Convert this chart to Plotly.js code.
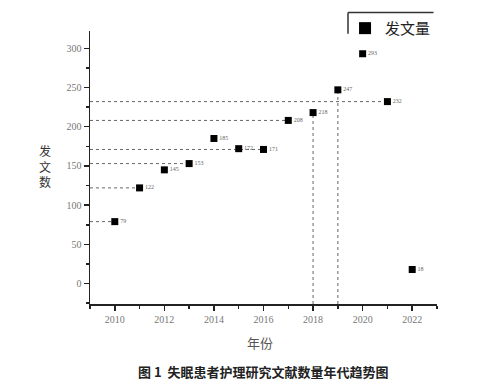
<!DOCTYPE html>
<html>
<head>
<meta charset="utf-8">
<script src="https://cdn.plot.ly/plotly-3.0.1.min.js"></script>
<style>html,body{margin:0;padding:0;background:#fff;}#chart{width:500px;height:389px;}</style>
</head>
<body>
<div id="chart"></div>
<script>
const years = [2010, 2011, 2012, 2013, 2014, 2015, 2016, 2017, 2018, 2019, 2020, 2021, 2022];
const counts = [79, 122, 145, 153, 185, 172, 171, 208, 218, 247, 293, 232, 18];
const xTickVals = [2010, 2012, 2014, 2016, 2018, 2020, 2022];
const xTickText = ['2010', '2012', '2014', '2016', '2018', '2020', '2022'];
const yTickVals = [0, 50, 100, 150, 200, 250, 300];
const hDropYears = [2010, 2011, 2013, 2016, 2017, 2021];
const vDropYears = [2018, 2019];
const seriesName = '发文量';

const xMin = 2009, xMax = 2023, yMin = -26, yMax = 322;
const valueOf = y => counts[years.indexOf(y)];

const traces = [];
hDropYears.forEach(y => {
  traces.push({x: [xMin, y], y: [valueOf(y), valueOf(y)], mode: 'lines', showlegend: false,
    line: {color: '#666', width: 1, dash: 'dot'}, hoverinfo: 'skip'});
});
vDropYears.forEach(y => {
  traces.push({x: [y, y], y: [yMin, valueOf(y)], mode: 'lines', showlegend: false,
    line: {color: '#666', width: 1, dash: 'dot'}, hoverinfo: 'skip'});
});
traces.push({
  x: years, y: counts, name: seriesName, mode: 'markers+text',
  marker: {symbol: 'square', size: 7, color: '#000'},
  text: counts.map(String), textposition: 'middle right',
  textfont: {size: 6, color: '#666', family: 'Liberation Serif'}
});

const layout = {
  width: 500, height: 389,
  margin: {l: 90, r: 63, t: 25, b: 85},
  paper_bgcolor: '#fff', plot_bgcolor: '#fff',
  showlegend: true,
  legend: {x: 0.735, y: 1.07, xanchor: 'left', yanchor: 'top', bgcolor: 'rgba(0,0,0,0)',
    font: {size: 15, family: 'Noto Sans CJK SC', color: '#222'}, itemsizing: 'constant'},
  xaxis: {range: [xMin, xMax], tickvals: xTickVals, ticktext: xTickText,
    ticks: 'outside', ticklen: 5, tickwidth: 1.5, tickcolor: '#222',
    minor: {dtick: 1, tick0: 2009, ticks: 'outside', ticklen: 3, tickcolor: '#222'},
    showline: true, linecolor: '#222', linewidth: 1.5, showgrid: false, zeroline: false,
    tickfont: {size: 10, family: 'Liberation Serif', color: '#777'}},
  yaxis: {range: [yMin, yMax], tickvals: yTickVals,
    ticks: 'outside', ticklen: 5, tickwidth: 1.5, tickcolor: '#222',
    minor: {dtick: 25, tick0: 0, ticks: 'outside', ticklen: 3, tickcolor: '#222'},
    showline: true, linecolor: '#222', linewidth: 1.5, showgrid: false, zeroline: false,
    tickfont: {size: 10, family: 'Liberation Serif', color: '#777'}},
  shapes: [
    {type: 'line', xref: 'paper', yref: 'paper', x0: 0.7435, x1: 0.99, y0: 1.068, y1: 1.068, line: {color: '#333', width: 1.5}},
    {type: 'line', xref: 'paper', yref: 'paper', x0: 0.7435, x1: 0.7435, y0: 1.068, y1: 0.99, line: {color: '#333', width: 1.5}}
  ],
  annotations: [
    {text: '发<br>文<br>数', xref: 'paper', yref: 'paper', x: -0.13, y: 0.505, xanchor: 'center', yanchor: 'middle',
      showarrow: false, font: {size: 12, family: 'Noto Sans CJK SC', color: '#333'}},
    {text: '年份', xref: 'paper', yref: 'paper', x: 0.49, y: -0.14, xanchor: 'center', yanchor: 'middle',
      showarrow: false, font: {size: 13, family: 'Noto Sans CJK SC', color: '#555'}},
    {text: '<b>图 1  失眠患者护理研究文献数量年代趋势图</b>', xref: 'paper', yref: 'paper', x: 0.5, y: -0.248,
      xanchor: 'center', yanchor: 'middle', showarrow: false, font: {size: 13, family: 'Noto Sans CJK SC', color: '#222'}}
  ]
};
Plotly.newPlot('chart', traces, layout, {displayModeBar: false, staticPlot: true});
</script>
</body>
</html>
